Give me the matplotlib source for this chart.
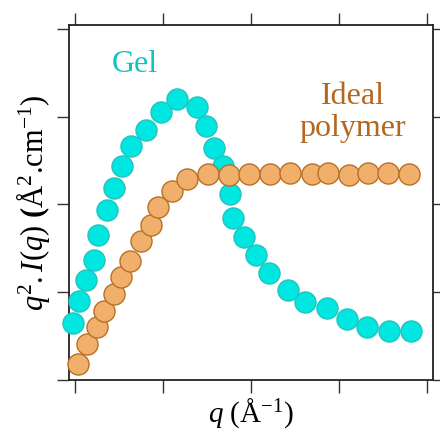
import matplotlib
matplotlib.use("Agg")
import matplotlib.pyplot as plt

plt.rcParams["font.family"] = ["Liberation Serif", "DejaVu Serif"]
plt.rcParams["mathtext.fontset"] = "custom"
plt.rcParams["mathtext.rm"] = "Liberation Serif"
plt.rcParams["mathtext.it"] = "Liberation Serif:italic"
plt.rcParams["mathtext.bf"] = "Liberation Serif:bold"

# Gel scattering curve (Kratky representation)
gel_q = [-0.02, 0.04, 0.12, 0.22, 0.26, 0.36, 0.44, 0.53, 0.64, 0.81, 0.98,
         1.16, 1.39, 1.49, 1.58, 1.68, 1.76, 1.80, 1.92, 2.06, 2.20, 2.42,
         2.61, 2.86, 3.09, 3.32, 3.57, 3.82]
gel_i = [0.65, 0.90, 1.14, 1.37, 1.65, 1.94, 2.19, 2.44, 2.67, 2.85, 3.05,
         3.20, 3.11, 2.89, 2.64, 2.44, 2.12, 1.85, 1.63, 1.42, 1.22, 1.03,
         0.89, 0.82, 0.70, 0.60, 0.56, 0.56]

# Ideal polymer (Debye) curve, reaching a plateau
ideal_q = [0.03, 0.13, 0.25, 0.33, 0.44, 0.52, 0.62, 0.75, 0.86, 0.94, 1.10,
           1.27, 1.51, 1.75, 1.98, 2.22, 2.44, 2.69, 2.88, 3.11, 3.33, 3.56,
           3.80]
ideal_i = [0.18, 0.41, 0.60, 0.79, 0.98, 1.17, 1.36, 1.58, 1.77, 1.97, 2.15,
           2.29, 2.35, 2.34, 2.35, 2.35, 2.36, 2.35, 2.36, 2.34, 2.36, 2.36,
           2.35]

x_ticks = [0, 1, 2, 3, 4]
y_ticks = [0, 1, 2, 3, 4]

fig = plt.figure(figsize=(4.4, 4.36), dpi=100)
ax = fig.add_axes([0.1568, 0.1284, 0.8273, 0.8143])

ax.scatter(gel_q, gel_i, s=230, facecolor="#00e6e0", edgecolor="#22c4c0",
           linewidth=1.0, zorder=3, clip_on=False)
ax.scatter(ideal_q, ideal_i, s=230, facecolor="#f0b06c", edgecolor="#b87025",
           linewidth=1.0, zorder=4, clip_on=False)

ax.set_xlim(-0.07, 4.07)
ax.set_ylim(0, 4.045)
ax.set_xticks(x_ticks)
ax.set_yticks(y_ticks)
ax.tick_params(which="both", direction="out", length=9, width=1.0,
               color="#333333", top=True, right=True,
               labelbottom=False, labelleft=False)
for sp in ax.spines.values():
    sp.set_linewidth(1.3)
    sp.set_color("#222222")

ax.text(0.68, 3.60, "Gel", color="#11c4c4", fontsize=23,
        ha="center", va="center")
ax.text(3.16, 3.05, "Ideal\npolymer", color="#b5661f", fontsize=23,
        ha="center", va="center", linespacing=1.15)

ax.set_xlabel(r"$q$ (Å$^{\mathrm{-1}}$)", fontsize=21, labelpad=3)
ax.set_ylabel(r"$q^{2}.I(q)$ $\mathbf{(}$Å$^{2}$.cm$^{\mathrm{-1}}$)",
              fontsize=22, labelpad=3)

fig.savefig("out.png", dpi=100)
